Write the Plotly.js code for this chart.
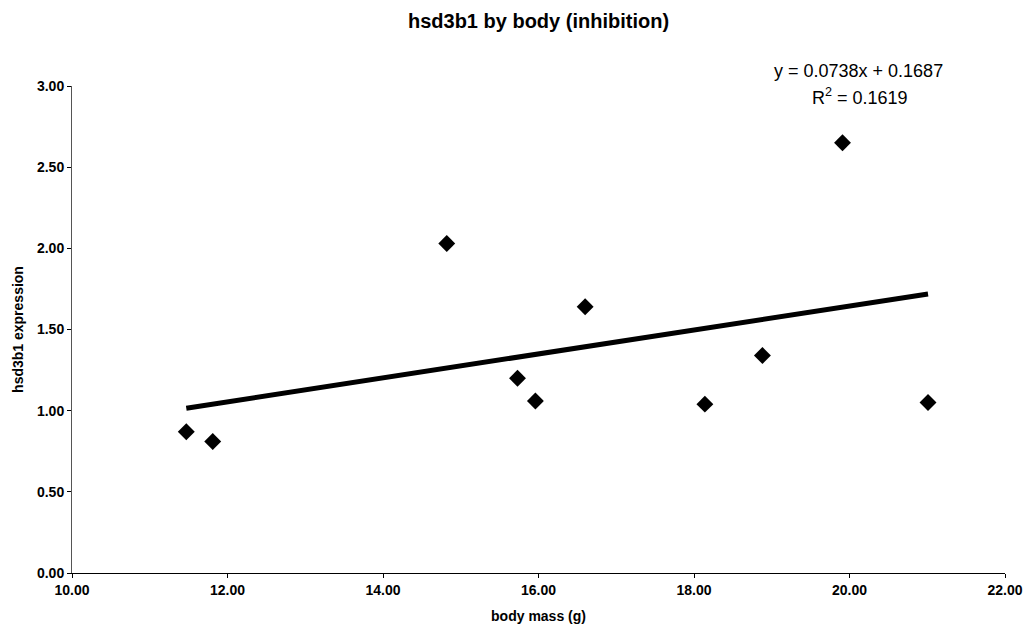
<!DOCTYPE html>
<html>
<head>
<meta charset="utf-8">
<script src="https://cdn.plot.ly/plotly-3.0.1.min.js"></script>
<style>
  html, body { margin: 0; padding: 0; background: #fff; }
  #chart { width: 1027px; height: 635px; }
</style>
</head>
<body>
<div id="chart"></div>
<script>
// Body mass (g) and hsd3b1 expression for each animal
const bodyMass = [11.47, 11.81, 14.82, 15.73, 15.96, 16.60, 18.14, 18.88, 19.91, 21.01];
const expression = [0.87, 0.81, 2.03, 1.20, 1.06, 1.64, 1.04, 1.34, 2.65, 1.05];

// Linear trend fitted to the data
const slope = 0.0738;
const intercept = 0.1687;
const rSquared = 0.1619;

const xTicks = [10, 12, 14, 16, 18, 20, 22];
const yTicks = [0, 0.5, 1.0, 1.5, 2.0, 2.5, 3.0];

const fontFamily = '"Liberation Sans", Arial, sans-serif';

const trendX = [Math.min(...bodyMass), Math.max(...bodyMass)];
const trendY = trendX.map(v => slope * v + intercept);

const points = {
  x: bodyMass,
  y: expression,
  type: 'scatter',
  mode: 'markers',
  marker: { symbol: 'diamond', size: 13, color: '#000' },
  hoverinfo: 'x+y',
  showlegend: false
};

const trend = {
  x: trendX,
  y: trendY,
  type: 'scatter',
  mode: 'lines',
  line: { color: '#000', width: 5 },
  hoverinfo: 'skip',
  showlegend: false
};

const layout = {
  width: 1027,
  height: 635,
  paper_bgcolor: '#fff',
  plot_bgcolor: '#fff',
  margin: { l: 72, r: 22, t: 86, b: 62 },
  font: { family: fontFamily, color: '#000' },
  title: {
    text: '<b>hsd3b1 by body (inhibition)</b>',
    font: { size: 20, family: fontFamily, color: '#000' },
    x: 0.5, xref: 'paper', xanchor: 'center',
    y: 1 - 21 / 635, yref: 'container', yanchor: 'middle'
  },
  xaxis: {
    range: [10, 22],
    tickvals: xTicks,
    ticktext: xTicks.map(v => '<b>' + v.toFixed(2) + '</b>'),
    ticks: 'outside', ticklen: 4, tickcolor: '#000', tickwidth: 1,
    showline: true, linecolor: '#000', linewidth: 1,
    showgrid: false, zeroline: false,
    tickfont: { size: 14, family: fontFamily, color: '#000' },
    title: {
      text: '<b>body mass (g)</b>',
      font: { size: 14, family: fontFamily, color: '#000' },
      standoff: 14
    }
  },
  yaxis: {
    range: [0, 3],
    tickvals: yTicks,
    ticktext: yTicks.map(v => '<b>' + v.toFixed(2) + '</b>'),
    ticks: 'outside', ticklen: 4, tickcolor: '#000', tickwidth: 1,
    showline: true, linecolor: '#555', linewidth: 1,
    showgrid: false, zeroline: false,
    tickfont: { size: 14, family: fontFamily, color: '#000' },
    title: {
      text: '<b>hsd3b1 expression</b>',
      font: { size: 14, family: fontFamily, color: '#000' },
      standoff: 10
    }
  },
  annotations: [
    {
      text: 'y = ' + slope.toFixed(4) + 'x + ' + intercept.toFixed(4),
      xref: 'paper', yref: 'paper',
      x: (858 - 72) / 933, y: (573 - 71) / 487,
      xanchor: 'center', yanchor: 'middle', showarrow: false,
      font: { size: 18, family: fontFamily, color: '#000' }
    },
    {
      text: 'R<sup>2</sup> = ' + rSquared.toFixed(4),
      xref: 'paper', yref: 'paper',
      x: (860 - 72) / 933, y: (573 - 97) / 487,
      xanchor: 'center', yanchor: 'middle', showarrow: false,
      font: { size: 18, family: fontFamily, color: '#000' }
    }
  ]
};

Plotly.newPlot('chart', [trend, points], layout, { displayModeBar: false, staticPlot: true });
</script>
</body>
</html>
